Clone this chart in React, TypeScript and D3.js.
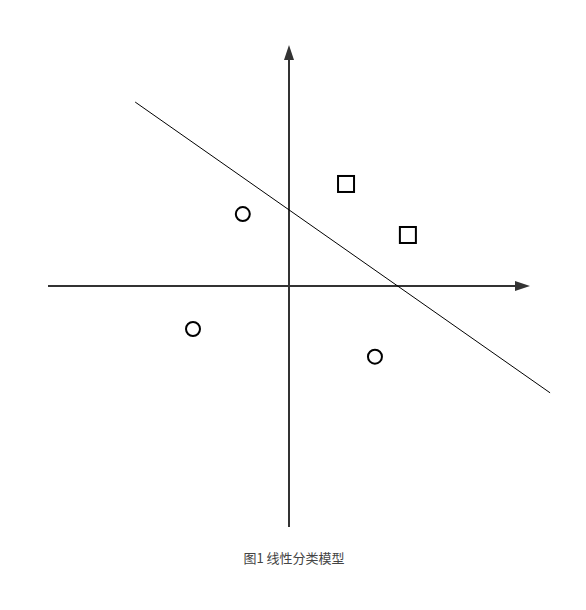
import React, { useRef, useEffect } from 'react';
import * as d3 from 'd3';

// --- DATA (in axis units, axis range is -6..6 both ways) ---
const circlePoints = [
  { x: -1.15, y: 1.79 },
  { x: -2.39, y: -1.07 },
  { x: 2.14, y: -1.76 },
];
const squarePoints = [
  { x: 1.42, y: 2.54 },
  { x: 2.96, y: 1.27 },
];
const boundaryLine = [
  { x: -3.83, y: 4.58 },
  { x: 6.5, y: -2.66 },
];
const axisDomain: [number, number] = [-6, 6];
const caption = '图1 线性分类模型';

export default function App() {
  const svgRef = useRef<SVGSVGElement>(null);

  useEffect(() => {
    if (!svgRef.current) return;
    const svg = d3.select(svgRef.current);
    svg.selectAll('*').remove();

    const xScale = d3.scaleLinear().domain(axisDomain).range([48, 530]);
    const yScale = d3.scaleLinear().domain(axisDomain).range([527, 45]);
    const x0 = xScale(0);
    const y0 = yScale(0);
    const axisColor = '#333';
    const headLen = 15;
    const headHalf = 5;

    // X axis with arrow
    svg.append('line')
      .attr('x1', xScale(axisDomain[0])).attr('y1', y0)
      .attr('x2', xScale(axisDomain[1]) - headLen).attr('y2', y0)
      .attr('stroke', axisColor).attr('stroke-width', 2);
    svg.append('path')
      .attr('d', `M${xScale(axisDomain[1])},${y0} L${xScale(axisDomain[1]) - headLen},${y0 - headHalf} L${xScale(axisDomain[1]) - headLen},${y0 + headHalf} Z`)
      .attr('fill', axisColor);

    // Y axis with arrow
    svg.append('line')
      .attr('x1', x0).attr('y1', yScale(axisDomain[0]))
      .attr('x2', x0).attr('y2', yScale(axisDomain[1]) + headLen)
      .attr('stroke', axisColor).attr('stroke-width', 2);
    svg.append('path')
      .attr('d', `M${x0},${yScale(axisDomain[1])} L${x0 - headHalf},${yScale(axisDomain[1]) + headLen} L${x0 + headHalf},${yScale(axisDomain[1]) + headLen} Z`)
      .attr('fill', axisColor);

    // Decision boundary
    const line = d3.line<{ x: number; y: number }>()
      .x(d => xScale(d.x))
      .y(d => yScale(d.y));
    svg.append('path')
      .attr('d', line(boundaryLine) || '')
      .attr('fill', 'none')
      .attr('stroke', '#000')
      .attr('stroke-width', 1);

    // Circles
    svg.selectAll('circle.pt')
      .data(circlePoints)
      .enter()
      .append('circle')
      .attr('class', 'pt')
      .attr('cx', d => xScale(d.x))
      .attr('cy', d => yScale(d.y))
      .attr('r', 7)
      .attr('fill', 'none')
      .attr('stroke', '#000')
      .attr('stroke-width', 2);

    // Squares
    const side = 16;
    svg.selectAll('rect.pt')
      .data(squarePoints)
      .enter()
      .append('rect')
      .attr('class', 'pt')
      .attr('x', d => xScale(d.x) - side / 2)
      .attr('y', d => yScale(d.y) - side / 2)
      .attr('width', side)
      .attr('height', side)
      .attr('fill', 'none')
      .attr('stroke', '#000')
      .attr('stroke-width', 2);

    // Caption
    svg.append('text')
      .attr('x', 294)
      .attr('y', 563)
      .attr('text-anchor', 'middle')
      .attr('fill', '#444')
      .style('font-size', '13px')
      .style('font-family', '"Noto Sans CJK SC", "Noto Sans", sans-serif')
      .text(caption);
  }, []);

  return (
    <svg
      ref={svgRef}
      width={586}
      height={610}
      style={{ position: 'absolute', left: 0, top: 0, background: '#fff' }}
    />
  );
}
